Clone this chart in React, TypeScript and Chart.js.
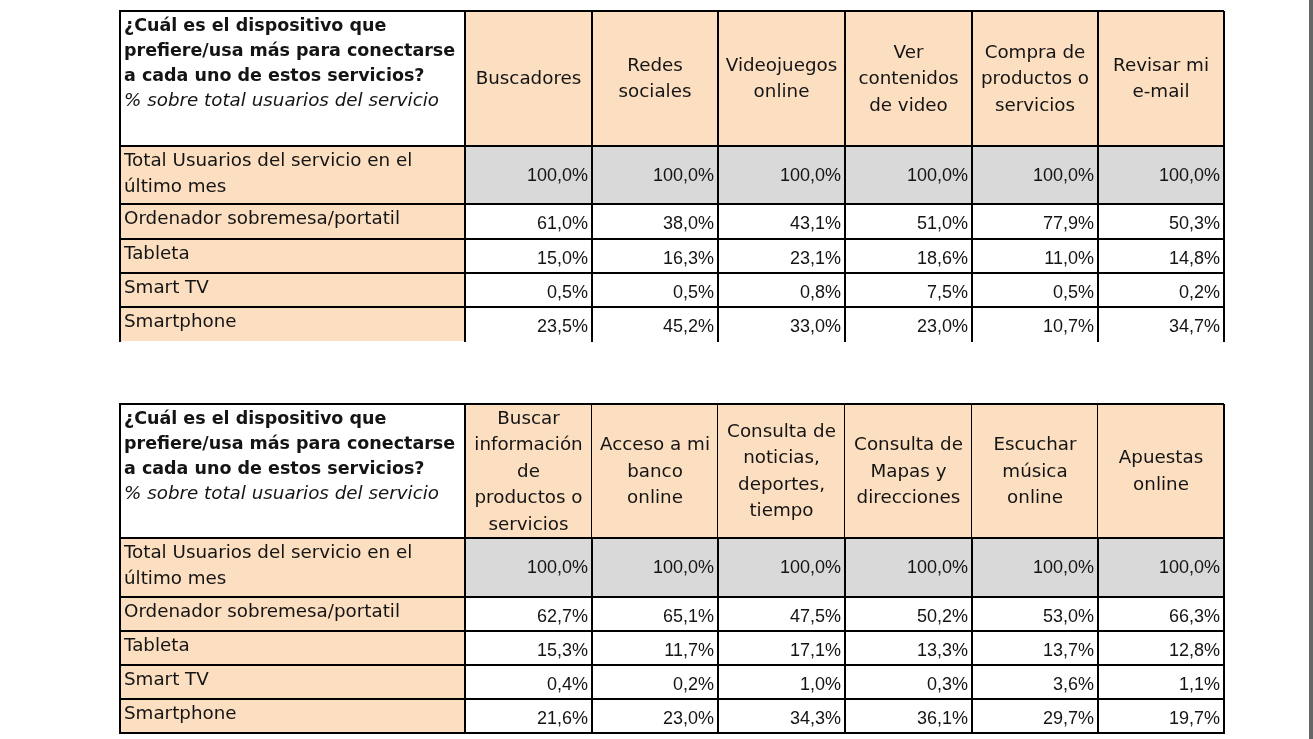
import React, { useEffect, useRef } from "react";
import { Chart, registerables } from "chart.js";

Chart.register(...registerables);

// ---------- DATA ----------
const questionLines = [
  "¿Cuál es el dispositivo que",
  "prefiere/usa más para conectarse",
  "a cada uno de estos servicios?",
];
const subtitle = "% sobre total usuarios del servicio";
const totalRowLabel = ["Total Usuarios del servicio en el", "último mes"];
const devices = ["Ordenador sobremesa/portatil", "Tableta", "Smart TV", "Smartphone"];

const services1 = [
  ["Buscadores"],
  ["Redes", "sociales"],
  ["Videojuegos", "online"],
  ["Ver", "contenidos", "de video"],
  ["Compra de", "productos o", "servicios"],
  ["Revisar mi", "e-mail"],
];
const total1 = [100.0, 100.0, 100.0, 100.0, 100.0, 100.0];
const desktop1 = [61.0, 38.0, 43.1, 51.0, 77.9, 50.3];
const tablet1 = [15.0, 16.3, 23.1, 18.6, 11.0, 14.8];
const smartTv1 = [0.5, 0.5, 0.8, 7.5, 0.5, 0.2];
const smartphone1 = [23.5, 45.2, 33.0, 23.0, 10.7, 34.7];

const services2 = [
  ["Buscar", "información", "de", "productos o", "servicios"],
  ["Acceso a mi", "banco", "online"],
  ["Consulta de", "noticias,", "deportes,", "tiempo"],
  ["Consulta de", "Mapas y", "direcciones"],
  ["Escuchar", "música", "online"],
  ["Apuestas", "online"],
];
const total2 = [100.0, 100.0, 100.0, 100.0, 100.0, 100.0];
const desktop2 = [62.7, 65.1, 47.5, 50.2, 53.0, 66.3];
const tablet2 = [15.3, 11.7, 17.1, 13.3, 13.7, 12.8];
const smartTv2 = [0.4, 0.2, 1.0, 0.3, 3.6, 1.1];
const smartphone2 = [21.6, 23.0, 34.3, 36.1, 29.7, 19.7];

// ---------- LAYOUT (in scale units) ----------
const W = 1313;
const H = 739;
const COL_EDGES = [120, 465, 592, 718, 845, 972, 1098, 1224];
const ROWS_T1 = [11, 146, 204, 239, 273, 307, 341];
const ROWS_T2 = [404, 538, 597, 631, 665, 699, 733];

const PEACH = "#FCDEC0";
const GRAY = "#D9D9D9";
const TEXT = "#141414";
const FONT_REG = '18.3px "DejaVu Sans"';
const FONT_BOLD = 'bold 17.5px "DejaVu Sans"';
const FONT_ITAL = 'italic 18.3px "DejaVu Sans"';
const FONT_NUM = '18px "Liberation Sans"';

const fmt = (v: number) => v.toFixed(1).replace(".", ",") + "%";

type TableSpec = {
  rows: number[];
  services: string[][];
  total: number[];
  values: number[][];
  thinHeaderLines: boolean;
  bottomBorder: boolean;
};

const tables: TableSpec[] = [
  {
    rows: ROWS_T1,
    services: services1,
    total: total1,
    values: [desktop1, tablet1, smartTv1, smartphone1],
    thinHeaderLines: false,
    bottomBorder: false,
  },
  {
    rows: ROWS_T2,
    services: services2,
    total: total2,
    values: [desktop2, tablet2, smartTv2, smartphone2],
    thinHeaderLines: true,
    bottomBorder: true,
  },
];

const tablePlugin = {
  id: "tablePlugin",
  afterDraw(chart: any) {
    const ctx = chart.ctx as CanvasRenderingContext2D;
    const xs = chart.scales.x;
    const ys = chart.scales.y;
    const px = (v: number) => xs.getPixelForValue(v);
    const py = (v: number) => ys.getPixelForValue(v);
    ctx.save();

    // right edge gray bar
    ctx.fillStyle = "#666666";
    ctx.fillRect(px(1309), py(0), px(1313) - px(1309), py(H) - py(0));

    const cx = COL_EDGES.map(px);
    for (const t of tables) {
      const ry = t.rows.map(py);
      const nCols = t.services.length;
      // backgrounds
      ctx.fillStyle = "#ffffff";
      ctx.fillRect(cx[0], ry[0], cx[nCols + 1] - cx[0], ry[ry.length - 1] - ry[0]);
      ctx.fillStyle = PEACH;
      ctx.fillRect(cx[1], ry[0], cx[nCols + 1] - cx[1], ry[1] - ry[0]);
      ctx.fillRect(cx[0], ry[1], cx[1] - cx[0], ry[ry.length - 1] - ry[1]);
      ctx.fillStyle = GRAY;
      ctx.fillRect(cx[1], ry[1], cx[nCols + 1] - cx[1], ry[2] - ry[1]);

      ctx.fillStyle = TEXT;
      // question header
      ctx.textAlign = "left";
      ctx.textBaseline = "middle";
      ctx.font = FONT_BOLD;
      questionLines.forEach((l, i) => ctx.fillText(l, cx[0] + 4, ry[0] + 15 + i * 25));
      ctx.font = FONT_ITAL;
      ctx.fillText(subtitle, cx[0] + 4, ry[0] + 15 + questionLines.length * 25);

      // service headers
      ctx.font = FONT_REG;
      ctx.textAlign = "center";
      t.services.forEach((lines, c) => {
        const mid = (cx[c + 1] + cx[c + 2]) / 2;
        const ymid = (ry[0] + ry[1]) / 2 + 1;
        const step = 26.5;
        const start = ymid - ((lines.length - 1) * step) / 2;
        lines.forEach((l, i) => ctx.fillText(l, mid, start + i * step));
      });

      // total row label
      ctx.textAlign = "left";
      totalRowLabel.forEach((l, i) => ctx.fillText(l, cx[0] + 4, ry[1] + 15 + i * 26));
      // device labels
      devices.forEach((d, r) => ctx.fillText(d, cx[0] + 4, ry[r + 2] + 15));

      // numbers
      ctx.font = FONT_NUM;
      ctx.textAlign = "right";
      t.total.forEach((v, c) => ctx.fillText(fmt(v), cx[c + 2] - 4, (ry[1] + ry[2]) / 2 + 1));
      t.values.forEach((row, r) => {
        row.forEach((v, c) => {
          ctx.fillText(fmt(v), cx[c + 2] - 4, (ry[r + 2] + ry[r + 3]) / 2 + 3);
        });
      });

      // grid lines
      ctx.fillStyle = "#000000";
      const top = ry[0];
      const bottom = ry[ry.length - 1];
      // verticals
      cx.forEach((x, i) => {
        if (i > nCols + 1) return;
        const inner = i >= 2 && i <= nCols;
        if (t.thinHeaderLines && inner) {
          ctx.fillRect(Math.round(x) - 1, top, 1, ry[1] - top);
          ctx.fillRect(Math.round(x) - 1, ry[1], 2, bottom - ry[1] + 1);
        } else {
          ctx.fillRect(Math.round(x) - 1, top, 2, bottom - top + 1);
        }
      });
      // horizontals
      ry.forEach((y, i) => {
        if (i === ry.length - 1 && !t.bottomBorder) return;
        ctx.fillRect(cx[0] - 1, Math.round(y) - 1, cx[nCols + 1] - cx[0] + 1, 2);
      });
    }
    ctx.restore();
  },
};

export default function App() {
  const ref = useRef<HTMLCanvasElement | null>(null);
  useEffect(() => {
    if (!ref.current) return;
    const chart = new Chart(ref.current, {
      type: "scatter",
      data: { datasets: [] },
      options: {
        animation: false,
        responsive: false,
        maintainAspectRatio: false,
        devicePixelRatio: 1,
        layout: { padding: 0 },
        plugins: { legend: { display: false }, tooltip: { enabled: false } },
        scales: {
          x: { type: "linear", min: 0, max: W, display: false },
          y: { type: "linear", min: 0, max: H, reverse: true, display: false },
        },
      },
      plugins: [tablePlugin],
    });
    return () => chart.destroy();
  }, []);
  return (
    <div style={{ position: "fixed", left: 0, top: 0, width: W, height: H, background: "#fff" }}>
      <canvas ref={ref} width={W} height={H} style={{ width: W, height: H, display: "block" }} />
    </div>
  );
}
